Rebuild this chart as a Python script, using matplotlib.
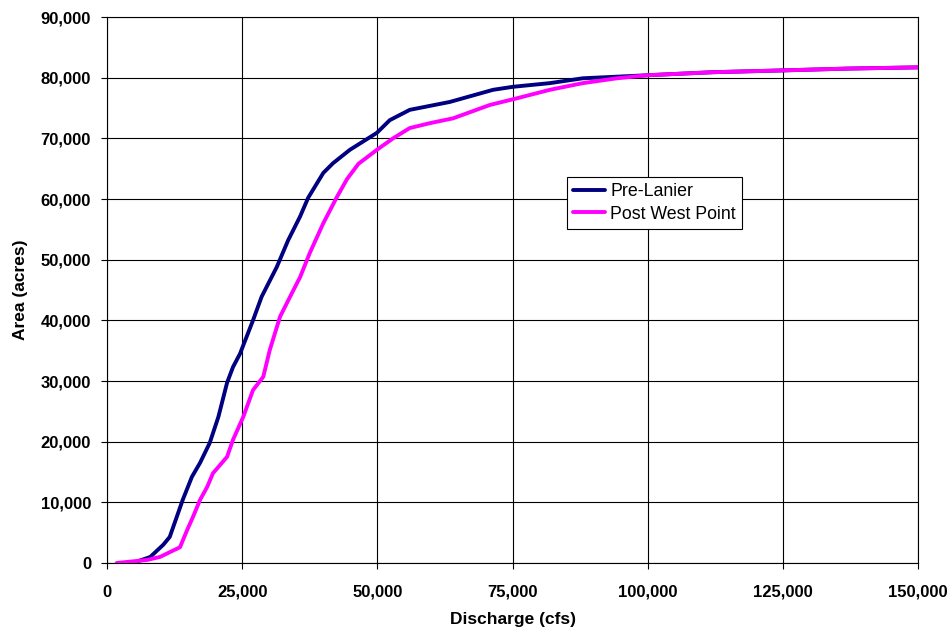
import numpy as np
import matplotlib.pyplot as plt
from matplotlib.ticker import FuncFormatter, MultipleLocator

plt.rcParams['font.family'] = ['Liberation Sans', 'DejaVu Sans']

# discharge (cfs) vs inundated area (acres)
pre_q = [4800, 8000, 10400, 11600, 14000, 15700, 17200, 19000, 20600, 22200,
         23300, 24600, 27000, 28600, 31400, 33500, 35700, 37200, 40000, 41800,
         44900, 49900, 52300, 56000, 63400, 71400, 75100, 81900, 88000, 99900,
         112000, 125000, 137000, 150000]
pre_area = [0, 1000, 3000, 4300, 10400, 14200, 16500, 19800, 24100, 29700,
            32300, 34500, 40000, 43900, 48800, 53200, 57100, 60200, 64300, 65900,
            68100, 70900, 73000, 74700, 76000, 78000, 78500, 79100, 79900, 80400,
            80900, 81200, 81500, 81700]

post_q = [1800, 7400, 9800, 13500, 14800, 15900, 17200, 18500, 19600, 22200,
          23300, 25200, 27000, 28900, 30100, 32000, 34200, 35700, 37500, 40000,
          42500, 44400, 46500, 49900, 52900, 56000, 59700, 64000, 70800, 75800,
          81900, 88000, 94300, 99900, 112000, 125000, 137000, 150000]
post_area = [0, 500, 1000, 2600, 5400, 7600, 10400, 12500, 14800, 17500,
             20300, 24100, 28500, 30700, 35100, 40600, 44500, 47100, 51100, 56000,
             60300, 63300, 65800, 68100, 70000, 71700, 72500, 73300, 75500, 76600,
             78000, 79100, 79900, 80400, 80900, 81200, 81500, 81700]

fig = plt.figure(figsize=(9.53, 6.35), dpi=100)
ax = fig.add_axes([0.1123, 0.1134, 0.851, 0.8598])

ax.plot(pre_q, pre_area, color='#000080', lw=2.8, label='Pre-Lanier',
        zorder=3, solid_joinstyle='round', solid_capstyle='round')
ax.plot(post_q, post_area, color='#FF00FF', lw=2.8, label='Post West Point',
        zorder=3, solid_joinstyle='round', solid_capstyle='round')

ax.set_xlim(0, 150000)
ax.set_ylim(0, 90000)
ax.xaxis.set_major_locator(MultipleLocator(25000))
ax.yaxis.set_major_locator(MultipleLocator(10000))
fmt = FuncFormatter(lambda v, p: f'{int(v):,}')
ax.xaxis.set_major_formatter(fmt)
ax.yaxis.set_major_formatter(fmt)

ax.grid(True, color='black', lw=0.8)
ax.set_axisbelow(True)
for s in ax.spines.values():
    s.set_color('black')
    s.set_linewidth(0.8)

ax.tick_params(direction='out', length=4.5, width=0.8, labelsize=12)
ax.tick_params(axis='x', pad=11)
ax.tick_params(axis='y', pad=7)
for lbl in ax.get_xticklabels() + ax.get_yticklabels():
    lbl.set_fontweight('bold')

ax.set_xlabel('Discharge (cfs)', fontsize=12.5, fontweight='bold', labelpad=9)
ax.set_ylabel('Area (acres)', fontsize=12.5, fontweight='bold', labelpad=9)

leg = ax.legend(loc='upper left', bbox_to_anchor=(0.567, 0.707), fontsize=12.8,
                frameon=True, fancybox=False, edgecolor='black', framealpha=1,
                handlelength=1.8, borderpad=0.35, labelspacing=0.3,
                handletextpad=0.3, borderaxespad=0)
leg.get_frame().set_linewidth(0.8)

fig.savefig('out.png', dpi=100)
